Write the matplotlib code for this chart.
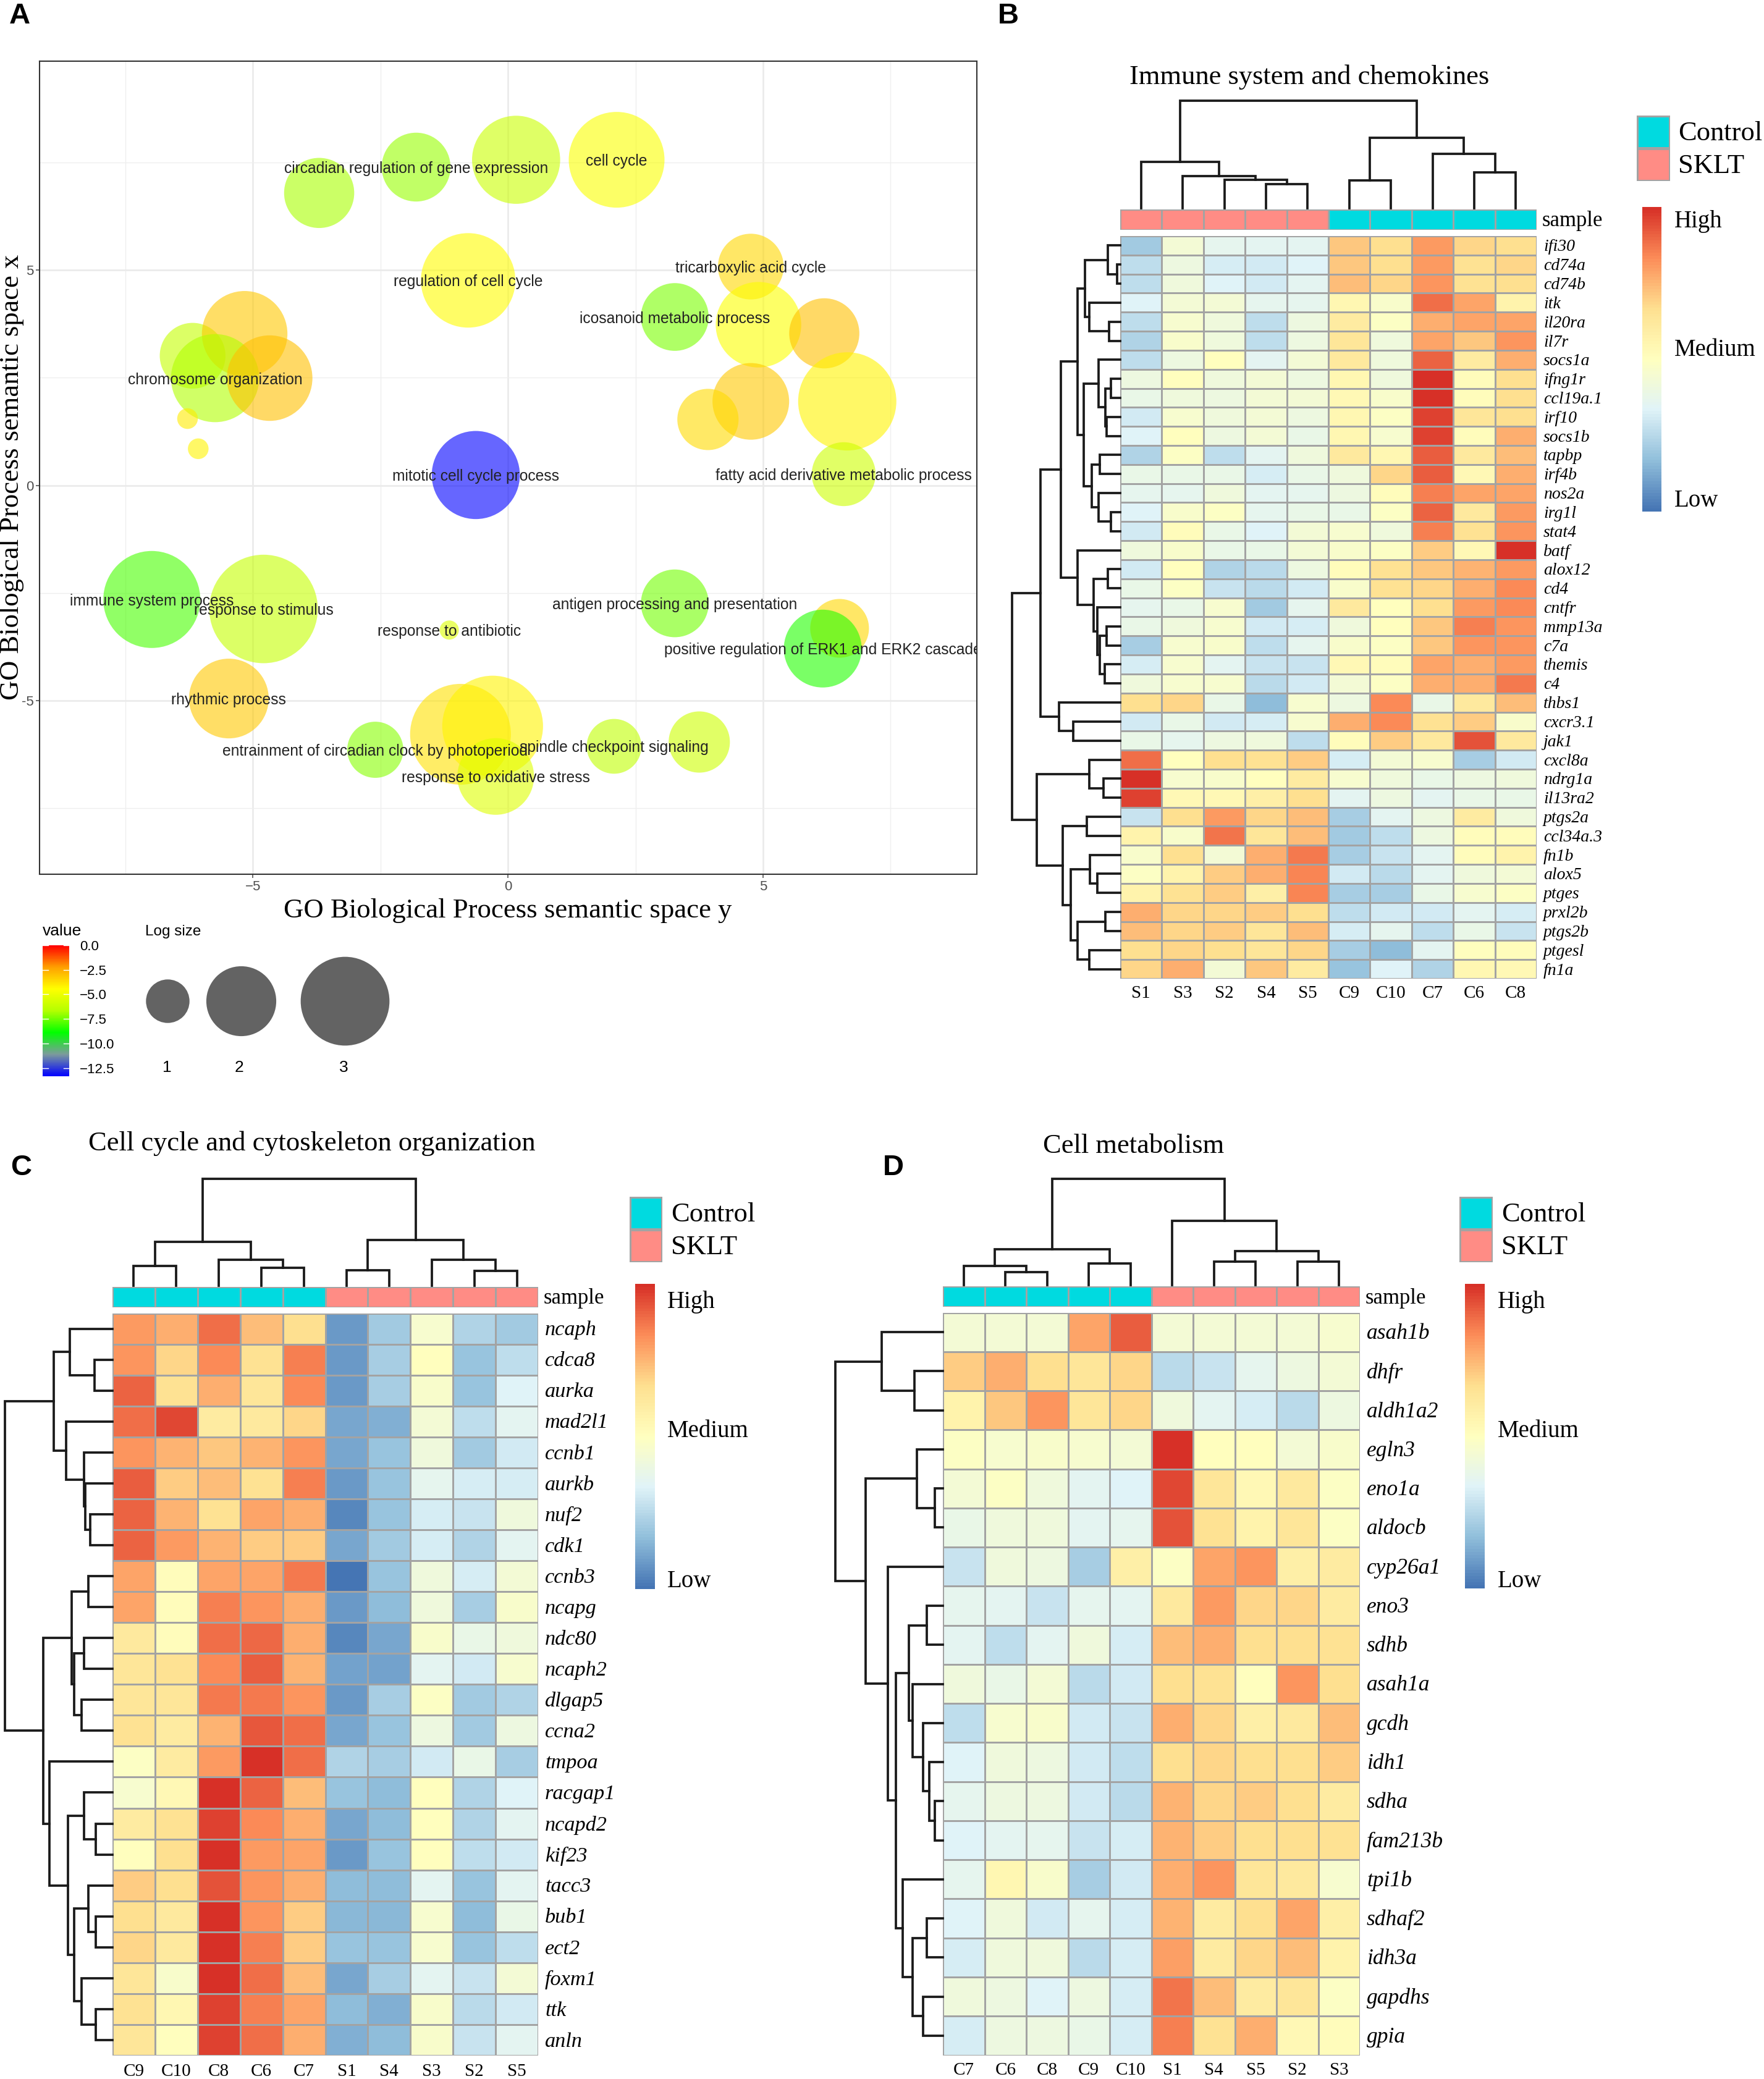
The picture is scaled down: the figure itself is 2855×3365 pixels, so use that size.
import matplotlib
matplotlib.use("Agg")
import numpy as np
import matplotlib.pyplot as plt
from matplotlib.cm import ScalarMappable
from matplotlib.colors import LinearSegmentedColormap, ListedColormap, Normalize

W, H = 2855, 3365
SERIF = "Liberation Serif"
SANS = "Liberation Sans"

# ---- panel A data
go_x = [-3.70, -1.80, 0.16, 2.13, -0.78, 4.76, 3.27, 4.91, 6.20, 6.65, 4.76, 3.92, 6.58,
        -0.63, -6.18, -5.16, -5.74, -4.67, -6.28, -6.07, -6.98, -4.79, -5.47, -1.15,
        3.27, 6.50, 6.17, -2.60, -0.93, -0.30, -0.24, 2.08, 3.75]
go_y = [6.79, 7.39, 7.56, 7.56, 4.76, 5.08, 3.91, 3.73, 3.53, 1.95, 1.95, 1.53, 0.26,
        0.24, 3.01, 3.52, 2.49, 2.49, 1.55, 0.85, -2.65, -2.87, -4.95, -3.36,
        -2.74, -3.32, -3.79, -6.14, -5.78, -5.59, -6.76, -6.06, -5.96]
go_value = [-6.8, -7.0, -6.0, -4.6, -4.4, -3.5, -7.4, -4.5, -3.0, -4.2, -3.2, -3.6, -5.9,
            -13.3, -6.2, -3.2, -6.7, -3.0, -4.0, -4.2, -8.0, -6.2, -3.2, -5.5,
            -7.5, -3.5, -8.5, -7.2, -3.8, -4.2, -5.4, -6.3, -5.9]
go_log_size = [2.01, 1.95, 2.96, 3.43, 3.35, 1.81, 1.90, 2.81, 2.01, 3.59, 2.33, 1.62, 1.73,
               2.96, 1.81, 2.81, 2.96, 2.81, 0.51, 0.51, 3.51, 4.30, 2.49, 0.49,
               1.90, 1.52, 2.39, 1.42, 3.76, 3.76, 2.33, 1.37, 1.62]
go_label = ["", "circadian regulation of gene expression", "", "cell cycle", "regulation of cell cycle",
            "tricarboxylic acid cycle", "icosanoid metabolic process", "", "", "", "", "",
            "fatty acid derivative metabolic process", "mitotic cell cycle process", "", "",
            "chromosome organization", "", "", "", "immune system process", "response to stimulus",
            "rhythmic process", "response to antibiotic", "antigen processing and presentation", "",
            "positive regulation of ERK1 and ERK2 cascade",
            "entrainment of circadian clock by photoperiod", "", "", "response to oxidative stress",
            "spindle checkpoint signaling", ""]
size_ticks = [1, 2, 3]
value_ticks = [0.0, -2.5, -5.0, -7.5, -10.0, -12.5]
value_min = -13.35

# ---- heat map colours
heat_colors = ["#4575B4", "#91BFDB", "#E0F3F8", "#FFFFBF", "#FEE090", "#FC8D59", "#D73027"]
group_colors = ["#00DAE0", "#FF8C85"]
group_names = ["Control", "SKLT"]

# ---- panel B data
b_genes = ["ifi30", "cd74a", "cd74b", "itk", "il20ra", "il7r", "socs1a", "ifng1r", "ccl19a.1", "irf10",
           "socs1b", "tapbp", "irf4b", "nos2a", "irg1l", "stat4", "batf", "alox12", "cd4", "cntfr",
           "mmp13a", "c7a", "themis", "c4", "thbs1", "cxcr3.1", "jak1", "cxcl8a", "ndrg1a", "il13ra2",
           "ptgs2a", "ccl34a.3", "fn1b", "alox5", "ptges", "prxl2b", "ptgs2b", "ptgesl", "fn1a"]
b_samples = ["S1", "S3", "S2", "S4", "S5", "C9", "C10", "C7", "C6", "C8"]
b_groups = [1, 1, 1, 1, 1, 0, 0, 0, 0, 0]
b_values = [
    [-1.8, -0.4, -0.8, -0.9, -0.9, 1.3, 1.0, 1.8, 1.1, 1.0],
    [-1.4, -0.6, -1.1, -1.2, -1.0, 1.3, 1.0, 1.8, 0.9, 1.1],
    [-1.4, -0.5, -1.0, -1.2, -0.9, 1.4, 1.1, 1.9, 0.9, 1.0],
    [-1.0, -0.4, -0.4, -0.8, -0.8, 0.3, -0.2, 2.3, 1.7, 0.4],
    [-1.4, -0.3, -0.5, -1.4, -0.6, 0.6, -0.1, 1.6, 1.7, 1.7],
    [-1.6, -0.2, -0.5, -1.4, -0.6, 0.8, -0.5, 1.7, 1.3, 1.9],
    [-1.4, -0.6, 0.0, -0.9, -0.4, 0.7, -0.5, 2.4, 0.6, 1.6],
    [-0.6, 0.0, -0.5, -0.4, -0.6, 0.3, -0.5, 3.0, 0.1, 1.0],
    [-0.7, -0.5, -0.6, -0.4, -0.4, 0.2, -0.2, 3.0, 0.1, 1.0],
    [-1.2, -0.3, -0.5, -0.4, -0.6, 0.3, -0.1, 2.8, 0.8, 1.0],
    [-1.0, 0.0, -0.6, -0.4, -0.7, 0.3, -0.3, 2.8, 0.1, 1.6],
    [-1.6, -0.1, -1.4, -0.9, -0.5, 0.7, 0.3, 2.5, 0.7, 1.4],
    [-0.7, -0.7, -0.7, -1.1, -0.7, -0.5, 1.1, 2.5, 0.2, 1.6],
    [-0.8, -0.8, -0.5, -0.9, -0.8, -0.6, 0.1, 2.1, 1.7, 1.7],
    [-1.0, -0.2, -0.1, -0.8, -0.7, -0.7, -0.1, 2.4, 0.7, 1.8],
    [-1.2, 0.1, -0.7, -1.0, -0.4, -0.3, -0.5, 2.1, 0.9, 1.9],
    [-0.5, -0.2, -0.7, -0.7, -0.4, -0.2, -0.1, 1.2, 0.2, 3.0],
    [-1.2, 0.0, -1.6, -1.5, -0.6, 0.1, 0.9, 1.3, 1.5, 1.8],
    [-0.7, -0.1, -1.3, -1.5, -1.2, -0.2, 0.9, 1.1, 1.6, 2.0],
    [-0.8, -0.7, -0.3, -1.8, -0.8, 0.7, 0.0, 1.0, 1.8, 2.0],
    [-0.7, -0.5, -0.3, -1.2, -1.1, -0.5, 0.0, 1.3, 2.1, 1.9],
    [-1.7, -0.3, -0.2, -1.4, -0.8, -0.2, -0.1, 1.3, 1.9, 1.9],
    [-1.1, -0.3, -0.9, -1.3, -1.3, 0.2, 0.1, 1.7, 1.6, 1.8],
    [-0.5, -0.3, -0.3, -1.5, -1.2, -0.4, -0.1, 1.6, 1.6, 2.2],
    [1.0, 1.1, -0.7, -2.0, -0.3, -0.6, 2.0, -0.7, 0.7, 1.4],
    [-1.2, -0.7, -1.2, -1.1, -0.3, 1.6, 2.0, 0.9, 1.2, -0.2],
    [-0.7, -0.8, -0.6, -0.5, -1.4, 0.1, 1.2, 0.7, 2.6, 0.7],
    [2.3, 0.0, 1.0, 0.9, 1.2, -1.1, -0.4, -0.3, -1.7, -1.2],
    [3.0, -0.3, -0.2, 0.0, 0.6, -0.3, -0.5, -0.7, -0.6, -0.5],
    [2.8, 0.2, 0.2, 0.5, 1.0, -0.9, -0.6, -0.9, -0.7, -0.7],
    [-1.3, 1.0, 1.8, 1.1, 1.4, -1.7, -0.9, -0.6, 0.6, -0.5],
    [0.4, -0.2, 2.25, 0.8, 1.4, -1.8, -1.4, -0.6, 0.1, 0.1],
    [-0.2, 1.0, -0.4, 1.6, 2.2, -1.7, -1.3, -0.9, 0.1, 0.4],
    [-0.1, 0.4, 1.2, 1.6, 2.05, -1.2, -1.5, -0.9, -0.5, -0.4],
    [0.4, 0.9, 1.2, 0.5, 2.05, -1.7, -1.7, -0.7, -0.3, -0.1],
    [1.6, 1.1, 1.1, 1.2, 1.0, -1.4, -1.2, -1.2, -0.9, -1.1],
    [1.4, 1.1, 1.2, 0.8, 1.4, -1.1, -0.8, -1.4, -0.7, -1.3],
    [1.0, 1.1, 1.0, 0.8, 1.1, -1.7, -2.0, -0.9, 0.0, 0.1],
    [1.1, 1.6, -0.4, 1.3, 0.6, -1.9, -1.0, -1.6, 0.3, 0.2],
]
# trees are (height, left, right), leaves are positions
b_col_tree = (174, (75, 0, (52, 1, (46, 2, (39, 3, 4)))),
              (114, (45, 5, 6), (88, 7, (58, 8, 9))))
b_row_tree = (175,
              (129,
               (96,
                (69,
                 (57, (20, 0, (5.5, 1, 2)), (50, 3, (18, 4, 5))),
                 (59,
                  (35, 6, (24, (15, 7, 8), (22, 9, 10))),
                  (46, (33, 11, 12), (35, 13, (15, 14, 15))))),
                (69, 16,
                 (43, (20, 17, 18),
                  (37, 19, (33, (22, 20, 21), (25, 22, 23)))))),
               (99, 24, (76, 25, 26))),
              (135,
               (50, 27, (27, 28, 29)),
               (93,
                (54, 30, 31),
                (80,
                 (49, 32, (37, 33, 34)),
                 (69, (24, 35, 36), (50, 37, 38))))))

# ---- panel C data
c_genes = ["ncaph", "cdca8", "aurka", "mad2l1", "ccnb1", "aurkb", "nuf2", "cdk1", "ccnb3", "ncapg", "ndc80",
           "ncaph2", "dlgap5", "ccna2", "tmpoa", "racgap1", "ncapd2", "kif23", "tacc3", "bub1", "ect2",
           "foxm1", "ttk", "anln"]
c_samples = ["C9", "C10", "C8", "C6", "C7", "S1", "S4", "S3", "S2", "S5"]
c_groups = [0, 0, 0, 0, 0, 1, 1, 1, 1, 1]
c_values = [
    [1.8, 1.6, 2.3, 1.4, 1.0, -2.5, -1.8, -0.3, -1.6, -1.8],
    [1.9, 1.1, 2.0, 0.9, 2.1, -2.5, -1.7, 0.0, -1.9, -1.4],
    [2.4, 0.9, 1.6, 0.8, 2.0, -2.5, -1.7, -0.2, -1.9, -1.0],
    [2.3, 2.7, 0.6, 0.7, 1.1, -2.3, -2.2, -0.4, -1.4, -0.9],
    [1.9, 1.5, 1.3, 1.5, 1.9, -2.3, -1.9, -0.5, -1.8, -1.2],
    [2.5, 1.2, 1.4, 0.9, 2.1, -2.5, -1.9, -0.8, -1.1, -1.1],
    [2.4, 1.5, 0.9, 1.7, 1.6, -2.7, -1.9, -1.1, -1.3, -0.5],
    [2.4, 1.8, 1.5, 1.2, 1.2, -2.3, -1.8, -1.1, -1.6, -0.9],
    [1.7, 0.1, 1.7, 1.7, 2.2, -3.0, -1.9, -0.5, -1.1, -0.4],
    [1.7, 0.1, 2.1, 1.9, 1.6, -2.5, -2.0, -0.5, -1.7, -0.2],
    [0.7, 0.1, 2.3, 2.35, 1.6, -2.7, -2.3, -0.2, -0.7, -0.5],
    [0.8, 0.9, 2.0, 2.5, 1.5, -2.4, -2.4, -0.9, -1.2, -0.3],
    [0.8, 0.8, 2.2, 2.2, 1.9, -2.5, -1.7, -0.1, -1.8, -1.6],
    [0.9, 0.6, 1.5, 2.55, 2.3, -2.3, -1.9, -0.6, -1.8, -0.6],
    [-0.1, 0.6, 1.8, 3.0, 2.3, -1.6, -1.7, -1.2, -0.7, -1.7],
    [-0.3, 0.2, 3.0, 2.4, 1.4, -1.9, -2.0, 0.0, -1.6, -1.0],
    [0.6, 0.9, 2.8, 2.0, 1.6, -2.3, -2.0, 0.0, -1.6, -0.9],
    [0.0, 1.0, 3.0, 1.8, 1.7, -2.5, -1.9, 0.0, -1.4, -1.2],
    [1.2, 1.0, 2.6, 1.9, 1.6, -2.0, -2.0, -0.9, -1.9, -0.9],
    [1.0, 0.7, 3.0, 1.9, 1.2, -2.1, -2.1, -0.3, -2.0, -0.7],
    [1.1, 0.7, 3.0, 2.1, 1.2, -1.9, -1.9, -0.3, -1.9, -1.4],
    [0.8, -0.2, 3.0, 2.3, 1.4, -2.3, -1.7, -0.9, -1.3, -0.4],
    [0.9, 0.3, 2.8, 2.1, 1.7, -2.0, -2.2, -0.2, -1.5, -1.2],
    [0.8, 0.0, 2.8, 2.3, 1.6, -2.2, -2.0, -0.2, -1.3, -0.9],
]
c_col_tree = (173.5, (71, (32, 0, 1), (42, 2, (29, 3, 4))),
              (74.5, (25, 5, 6), (42, 7, (24.5, 8, 9))))
c_row_tree = (174,
              (95,
               (69, 0, (29, 1, 2)),
               (75, 3, (46, 4, (44, 5, (36, 6, 7))))),
              (112,
               (65.5, (39, 8, 9), (62, (46, 10, 11), (50, 12, 13))),
               (102, 14,
                (72,
                 (45.6, 15, (26.5, 16, 17)),
                 (62,
                  (39, 18, (26.5, 19, 20)),
                  (50, 21, (26.5, 22, 23)))))))

# ---- panel D data
d_genes = ["asah1b", "dhfr", "aldh1a2", "egln3", "eno1a", "aldocb", "cyp26a1", "eno3", "sdhb", "asah1a", "gcdh",
           "idh1", "sdha", "fam213b", "tpi1b", "sdhaf2", "idh3a", "gapdhs", "gpia"]
d_samples = ["C7", "C6", "C8", "C9", "C10", "S1", "S4", "S5", "S2", "S3"]
d_groups = [0, 0, 0, 0, 0, 1, 1, 1, 1, 1]
d_values = [
    [-0.4, -0.4, -0.4, 1.7, 2.5, -0.4, -0.4, -0.4, -0.4, -0.3],
    [1.2, 1.6, 1.0, 0.8, 1.1, -1.5, -1.3, -0.8, -0.6, -0.4],
    [0.4, 1.3, 1.9, 0.8, 1.1, -0.5, -0.9, -1.1, -1.5, -0.6],
    [-0.1, -0.3, -0.2, -0.3, -0.4, 3.0, 0.0, 0.0, -0.4, -0.2],
    [-0.4, -0.1, -0.5, -0.9, -1.0, 2.7, 0.8, 0.2, 0.7, -0.1],
    [-0.7, -0.5, -0.5, -0.9, -0.8, 2.6, 0.9, 0.4, 0.8, -0.1],
    [-1.3, -0.5, -0.6, -1.7, 0.5, -0.1, 1.7, 1.9, 0.5, 0.6],
    [-0.8, -0.9, -1.3, -0.8, -0.9, 0.7, 1.85, 1.1, 1.1, 0.6],
    [-0.9, -1.4, -0.9, -0.5, -1.1, 1.4, 1.6, 1.0, 1.0, 0.9],
    [-0.5, -0.7, -0.4, -1.5, -1.2, 1.0, 0.9, 0.0, 1.9, 1.0],
    [-1.4, -0.3, -0.2, -1.2, -1.3, 1.6, 1.1, 0.5, 0.7, 1.4],
    [-1.0, -0.5, -0.6, -1.2, -1.4, 1.0, 1.1, 1.0, 1.0, 1.2],
    [-0.8, -0.6, -0.6, -1.2, -1.5, 1.5, 1.1, 1.2, 1.0, 0.6],
    [-1.0, -0.9, -0.8, -1.3, -1.1, 1.5, 1.2, 1.0, 1.0, 0.9],
    [-0.8, 0.3, -0.2, -1.7, -1.2, 1.6, 1.9, 0.8, 0.7, -0.3],
    [-1.0, -0.5, -1.2, -0.8, -1.1, 1.5, 0.6, 1.0, 1.7, 0.5],
    [-1.1, -0.5, -0.5, -1.5, -1.1, 1.75, 0.6, 1.1, 1.4, 0.4],
    [-0.5, -0.6, -1.0, -0.6, -1.1, 2.25, 1.4, 0.6, 0.8, -0.1],
    [-1.1, -0.6, -0.6, -0.7, -1.1, 2.1, 0.9, 1.6, 0.2, 0.1],
]
d_col_tree = (172.4, (58, (31, 0, (21.4, 1, 2)), (34.7, 3, 4)),
              (103.6, 5, (54.6, (37.8, 6, 7), (37.8, 8, 9))))
d_row_tree = (174,
              (99, 0, (46, 1, 2)),
              (125,
               (42, 3, (13, 4, 5)),
               (89, 6,
                (76,
                 (55.5, (25.7, 7, 8),
                  (49, 9, (32, 10, (22.4, 11, (13, 12, 13))))),
                 (65.5, 14,
                  (49, (25.7, 15, 16), (32, 17, 18)))))))


def axes_px(x0, y0, x1, y1):
    return fig.add_axes([x0 / W, 1 - y1 / H, (x1 - x0) / W, (y1 - y0) / H])


def text_px(x, y, s, **kw):
    kw.setdefault("va", "center")
    kw.setdefault("family", SERIF)
    return fig.text(x / W, 1 - (y + 2.5) / H, s, **kw)


def draw_tree(ax, node, horizontal=False):
    if not isinstance(node, tuple):
        return node + 0.5, 0
    h, left, right = node
    p1, h1 = draw_tree(ax, left, horizontal)
    p2, h2 = draw_tree(ax, right, horizontal)
    pos = [p1, p1, p2, p2]
    hts = [h1, h, h, h2]
    if horizontal:
        ax.plot(hts, pos, color="#1a1a1a", lw=2.7, clip_on=False, solid_joinstyle="miter")
    else:
        ax.plot(pos, hts, color="#1a1a1a", lw=2.7, clip_on=False, solid_joinstyle="miter")
    return (p1 + p2) / 2, h


def draw_heatmap(box, strip_y, values, genes, samples, groups, col_tree, row_tree, gene_size, sample_y):
    x0, y0, x1, y1 = box
    values = np.array(values)
    nrow, ncol = values.shape

    ax = axes_px(x0, y0, x1, y1)
    ax.pcolormesh(values, cmap=heat_cmap, vmin=-3, vmax=3, edgecolors="#A3A3A3", linewidth=1.8)
    ax.set_xlim(0, ncol)
    ax.set_ylim(nrow, 0)
    ax.axis("off")

    row_h = (y1 - y0) / nrow
    col_w = (x1 - x0) / ncol
    for i, gene in enumerate(genes):
        text_px(x1 + 11, y0 + (i + 0.5) * row_h, gene, size=gene_size, style="italic")
    for j, sample in enumerate(samples):
        text_px(x0 + (j + 0.5) * col_w, sample_y, sample, size=21, ha="center")

    strip = axes_px(x0, strip_y[0], x1, strip_y[1])
    strip.pcolormesh(np.array([groups]), cmap=group_cmap, vmin=0, vmax=1,
                     edgecolors="#A3A3A3", linewidth=1.8)
    strip.axis("off")
    text_px(x1 + 9, (strip_y[0] + strip_y[1]) / 2, "sample", size=25)

    top = axes_px(x0, strip_y[0] - 2 - col_tree[0], x1, strip_y[0] - 2)
    draw_tree(top, col_tree)
    top.set_xlim(0, ncol)
    top.set_ylim(0, col_tree[0])
    top.axis("off")

    left = axes_px(x0 - row_tree[0], y0, x0, y1)
    draw_tree(left, row_tree, horizontal=True)
    left.set_xlim(row_tree[0], 0)
    left.set_ylim(nrow, 0)
    left.axis("off")


def draw_keys(key_box, text_x, bar_box, bar_label_x, bar_label_y):
    keys = axes_px(*key_box)
    keys.pcolormesh(np.array([[0], [1]]), cmap=group_cmap, vmin=0, vmax=1,
                    edgecolors="#A3A3A3", linewidth=2.2)
    keys.set_ylim(2, 0)
    keys.axis("off")
    key_h = (key_box[3] - key_box[1]) / 2
    for i, name in enumerate(group_names):
        text_px(text_x, key_box[1] + (i + 0.5) * key_h, name, size=32)

    cax = axes_px(*bar_box)
    cb = fig.colorbar(ScalarMappable(Normalize(-3, 3), heat_cmap), cax=cax, ticks=[])
    cb.outline.set_visible(False)
    for y, s in zip(bar_label_y, ["High", "Medium", "Low"]):
        text_px(bar_label_x, y, s, size=28)


heat_cmap = LinearSegmentedColormap.from_list("heat", heat_colors, N=100)
group_cmap = ListedColormap(group_colors)
go_cmap = LinearSegmentedColormap.from_list(
    "go", [(0, "#0000FF"), (1 / 6, "#7C9B9C"), (1 / 3, "#00FF00"), (0.5, "#B4FF00"),
           (2 / 3, "#FFFF00"), (5 / 6, "#FFA000"), (1, "#FF0000")])
go_norm = Normalize(value_min, 0)


def bubble_area(log_size):
    return 4066 * np.asarray(log_size, dtype=float) - 1494


fig = plt.figure(figsize=(W / 100, H / 100), dpi=100, facecolor="white")

# ---- panel A
ax = axes_px(64, 99, 1581, 1415)
ax.scatter(go_x, go_y, s=bubble_area(go_log_size), c=go_value, cmap=go_cmap, norm=go_norm,
           alpha=0.6, linewidths=0, zorder=3)
for x, y, label in zip(go_x, go_y, go_label):
    if label:
        ax.annotate(label, (x, y), xytext=(0, -1.8), textcoords="offset points", ha="center", va="center",
                    size=17.7, family=SANS, color="#222222", annotation_clip=False, clip_on=True, zorder=4)
ax.set_xlim(-9.18, 9.19)
ax.set_ylim(-9.03, 9.85)
ax.set_xticks([-5, 0, 5], ["\u22125", "0", "5"])
ax.set_yticks([-5, 0, 5], ["-5", "0", "5"])
ax.set_xticks([-7.5, -2.5, 2.5, 7.5], minor=True)
ax.set_yticks([-7.5, -2.5, 2.5, 7.5], minor=True)
ax.grid(True, which="major", color="#EBEBEB", lw=2)
ax.grid(True, which="minor", color="#EFEFEF", lw=1)
ax.set_axisbelow(True)
ax.tick_params(which="major", length=4, width=1.2, color="#555555", labelsize=16, labelcolor="#4D4D4D", pad=3)
ax.tick_params(which="minor", length=0)
for label in ax.get_xticklabels() + ax.get_yticklabels():
    label.set_family(SANS)
for spine in ax.spines.values():
    spine.set_color("#333333")
    spine.set_linewidth(1.5)
text_px(822, 1472, "GO Biological Process semantic space y", size=32.2, ha="center")
text_px(19, 770, "GO Biological Process semantic space x", size=32, ha="center", rotation=90)

text_px(69, 1505, "value", size=19, family=SANS)
text_px(235, 1506, "Log size", size=17.5, family=SANS)
cax = axes_px(69, 1530, 112, 1742)
cb = fig.colorbar(ScalarMappable(go_norm, go_cmap), cax=cax, ticks=value_ticks)
cb.outline.set_visible(False)
cb.ax.set_yticklabels([f"{v:.1f}".replace("-", "\u2212") for v in value_ticks], family=SANS, size=16)
cb.ax.tick_params(length=0, pad=12)
for v in value_ticks:
    cb.ax.plot([0, 0.2], [v, v], color="white", lw=1)
    cb.ax.plot([0.8, 1], [v, v], color="white", lw=1)

for tick, cx, label_x in zip(size_ticks, [271, 390, 558], [270, 387, 556]):
    key = axes_px(cx - 90, 1530, cx + 90, 1710)
    key.scatter([0], [0], s=bubble_area(tick), color="#636363", linewidths=0)
    key.set_xlim(-1, 1)
    key.set_ylim(-1, 1)
    key.axis("off")
    text_px(label_x, 1726, str(tick), size=19, family=SANS, ha="center")

# ---- panel B
draw_heatmap((1813, 382, 2487, 1584), (339, 372), b_values, b_genes, b_samples, b_groups,
             b_col_tree, b_row_tree, 20, 1605)
draw_keys((2649, 187, 2703, 293), 2716, (2658, 335, 2689, 828), 2710, [356, 564, 808])
text_px(2119, 122, "Immune system and chemokines", size=32, ha="center")

# ---- panel C
draw_heatmap((182, 2125.5, 871, 3327), (2083, 2116), c_values, c_genes, c_samples, c_groups,
             c_col_tree, c_row_tree, 24.7, 3350)
draw_keys((1019, 1937, 1072, 2043), 1086, (1028, 2078, 1060, 2572), 1080, [2105, 2314, 2557])
text_px(505, 1848, "Cell cycle and cytoskeleton organization", size=32, ha="center")

# ---- panel D
draw_heatmap((1526, 2124.5, 2201, 3326.5), (2082, 2115), d_values, d_genes, d_samples, d_groups,
             d_col_tree, d_row_tree, 25.5, 3348)
draw_keys((2362, 1937, 2416, 2043), 2430, (2371, 2078, 2403, 2571), 2424, [2105, 2314, 2557])
text_px(1835, 1852, "Cell metabolism", size=32, ha="center")

# ---- panel letters
for x, y, s in [(15, 23, "A"), (1615, 24, "B"), (17, 1888, "C"), (1429, 1888, "D")]:
    text_px(x, y, s, size=34, family=SANS, weight="bold")

fig.savefig("out.png", dpi=100, facecolor="white")
